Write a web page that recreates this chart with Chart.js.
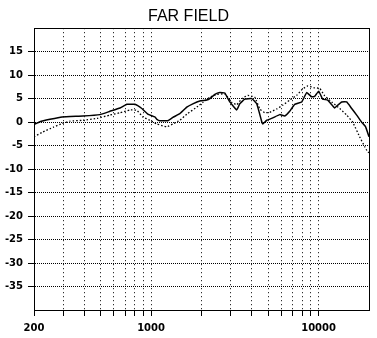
<!DOCTYPE html>
<html>
<head>
<meta charset="utf-8">
<title>Far Field</title>
<script src="https://cdn.jsdelivr.net/npm/chart.js@4"></script>
<style>
  body { margin: 0; background: #fff; }
  #wrap { width: 377px; height: 338px; }
</style>
</head>
<body>
<div id="wrap">
  <canvas id="farFieldChart" width="377" height="338"></canvas>
</div>
<script>
// =========================
// DADOS
// =========================

const solidFreq = [
  200, 217, 249, 294, 392, 495, 568, 652, 717, 800, 881, 957, 1053, 1083,
  1128, 1259, 1349, 1485, 1634, 1775, 1954, 2151, 2243, 2402, 2572, 2755,
  2951, 3249, 3385, 3625, 3990, 4274, 4579, 4642, 4904, 5327, 5861, 6277,
  6722, 7201, 7929, 8495, 9096, 9480, 10017, 10581, 11333, 12479, 13004,
  13736, 14714, 15762, 16885, 18067, 19090, 20000,
];
const solidDb = [
  -0.5, 0.1, 0.6, 1.1, 1.3, 1.6, 2.3, 3.0, 3.8, 3.8, 2.9, 1.7, 1.1, 0.6,
  0.3, 0.3, 1.0, 1.8, 3.2, 3.9, 4.5, 4.7, 5.0, 5.9, 6.3, 6.2,
  4.3, 2.6, 3.9, 4.9, 5.0, 3.9, 0.1, -0.4, 0.4, 0.9, 1.6, 1.3,
  2.3, 3.8, 4.3, 6.3, 5.4, 5.5, 6.6, 4.9, 4.7, 3.0, 3.6,
  4.3, 4.3, 2.9, 1.5, 0.0, -1.0, -3.1,
];

const dottedFreq = [
  200, 226, 260, 294, 328, 392, 475, 568, 652, 747, 823, 893, 984, 1083,
  1242, 1349, 1485, 1634, 1875, 2036, 2243, 2469, 2755, 3033, 3249, 3479,
  3778, 4158, 4455, 4771, 5111, 5624, 6108, 6722, 7401, 8039, 8612, 9480,
  10155, 10875, 11975, 13365, 14714, 15981, 17577, 18827, 19617, 20000,
];
const dottedDb = [
  -3.1, -2.1, -1.1, -0.3, 0.2, 0.4, 0.8, 1.5, 2.0, 2.6, 2.5, 1.1, 0.4, -0.4,
  -1.0, -0.4, 0.4, 1.7, 3.2, 4.2, 5.3, 5.9, 6.0, 4.2, 3.7, 5.0,
  5.7, 5.3, 2.8, 2.0, 2.1, 2.8, 3.6, 4.7, 5.7, 7.1, 7.7, 7.3,
  7.2, 5.6, 4.3, 2.9, 1.5, 0.0, -3.1, -5.2, -6.3, -6.5,
];

const xTicks = [
  200, 300, 400, 500, 600, 700, 800, 900, 1000,
  2000, 3000, 4000, 5000, 6000, 7000, 8000, 9000, 10000,
];
const xLabels = [200, 1000, 10000];
const yTicks = [-35, -30, -25, -20, -15, -10, -5, 0, 5, 10, 15];

// =========================
// GRÁFICO
// =========================

const fonteEixo = { family: "DejaVu Sans", size: 10, weight: "bold" };

// moldura em volta da área do gráfico
const moldura = {
  id: "moldura",
  afterDraw(chart) {
    const { ctx, chartArea: a } = chart;
    ctx.save();
    ctx.strokeStyle = "#000";
    ctx.lineWidth = 1;
    ctx.strokeRect(
      Math.round(a.left) + 0.5,
      Math.round(a.top) + 0.5,
      Math.round(a.right - a.left),
      Math.round(a.bottom - a.top)
    );
    ctx.restore();
  },
};

new Chart(document.getElementById("farFieldChart"), {
  type: "line",
  data: {
    datasets: [
      {
        data: solidFreq.map((f, i) => ({ x: f, y: solidDb[i] })),
        borderColor: "#000",
        borderWidth: 1.5,
        pointRadius: 0,
        tension: 0.1,
        fill: false,
      },
      {
        data: dottedFreq.map((f, i) => ({ x: f, y: dottedDb[i] })),
        borderColor: "#000",
        borderWidth: 1.3,
        borderDash: [1.5, 2],
        pointRadius: 0,
        tension: 0.1,
        fill: false,
      },
    ],
  },
  options: {
    responsive: false,
    animation: false,
    layout: {
      padding: 0,
    },
    plugins: {
      legend: { display: false },
      tooltip: { enabled: false },
      title: {
        display: true,
        text: "FAR FIELD",
        color: "#000",
        font: { family: "Liberation Sans", size: 16, weight: "normal" },
        padding: { top: 7, bottom: 2 },
      },
    },
    scales: {
      x: {
        type: "logarithmic",
        min: 200,
        max: 20000,
        afterBuildTicks: (scale) => {
          scale.ticks = xTicks.map((v) => ({ value: v }));
        },
        afterFit: (scale) => {
          scale.height = 28;
        },
        ticks: {
          autoSkip: false,
          maxRotation: 0,
          color: "#000",
          font: fonteEixo,
          padding: 6,
          callback: (v) => (xLabels.includes(v) ? String(v) : ""),
        },
        grid: {
          color: "#000",
          lineWidth: 1,
          tickLength: 6,
          tickBorderDash: [],
        },
        border: {
          color: "#000",
          width: 1,
          dash: [1, 3],
        },
      },
      y: {
        min: -40,
        max: 20,
        afterBuildTicks: (scale) => {
          scale.ticks = yTicks.map((v) => ({ value: v }));
        },
        afterFit: (scale) => {
          scale.width = 34;
        },
        ticks: {
          color: "#000",
          font: fonteEixo,
          padding: 5,
        },
        grid: {
          color: "#000",
          lineWidth: 1,
          tickLength: 6,
          tickBorderDash: [],
        },
        border: {
          color: "#000",
          width: 1,
          dash: [1, 1],
        },
      },
      // espaço vazio à direita da moldura
      margemDireita: {
        type: "linear",
        axis: "y",
        position: "right",
        min: -40,
        max: 20,
        afterFit: (scale) => {
          scale.width = 8;
        },
        ticks: { display: false },
        grid: { display: false },
        border: { display: false },
      },
    },
  },
  plugins: [moldura],
});
</script>
</body>
</html>
